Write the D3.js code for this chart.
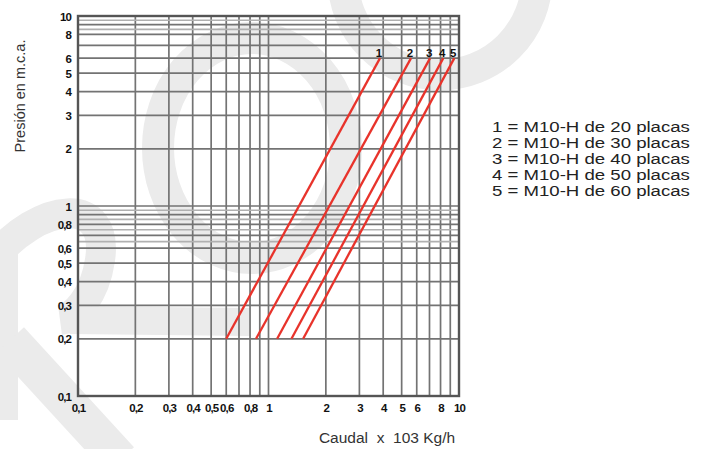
<!DOCTYPE html>
<html>
<head>
<meta charset="utf-8">
<script src="https://cdn.jsdelivr.net/npm/d3@7"></script>
<style>
  body { margin: 0; background: #fff; }
  svg { display: block; font-family: "Liberation Sans", Arial, Helvetica, sans-serif; }
</style>
</head>
<body>
<svg width="706" height="449"></svg>
<script>
// curve ids, flow at 0.2 m.c.a. and at 6 m.c.a. (x 10^3 kg/h)
const curveIds = ["1", "2", "3", "4", "5"];
const flowLow = [0.6, 0.86, 1.11, 1.32, 1.52];
const flowHigh = [3.85, 5.6, 7.05, 8.27, 9.45];
const pressLow = [0.2, 0.2, 0.2, 0.2, 0.2];
const pressHigh = [6, 6, 6, 6, 6];

const legendLabels = [
    "1 = M10-H de 20 placas",
    "2 = M10-H de 30 placas",
    "3 = M10-H de 40 placas",
    "4 = M10-H de 50 placas",
    "5 = M10-H de 60 placas"
];

const xTickValues = [0.1, 0.2, 0.3, 0.4, 0.5, 0.6, 0.8, 1, 2, 3, 4, 5, 6, 8, 10];
const yTickValues = [0.1, 0.2, 0.3, 0.4, 0.5, 0.6, 0.8, 1, 2, 3, 4, 5, 6, 8, 10];
const gridValues = [0.1, 0.2, 0.3, 0.4, 0.5, 0.6, 0.7, 0.8, 0.9, 1, 2, 3, 4, 5, 6, 7, 8, 9, 10];
// the scanned sheet shows some faint in-between rulings
const faintY = [0.65, 0.75, 0.85, 0.95, 8.5, 9.5];

const svg = d3.select("svg");
const x = d3.scaleLog().domain([0.1, 10]).range([78, 459]);
const y = d3.scaleLog().domain([0.1, 10]).range([396, 16]);
const fmt = d => String(d).replace(".", ",");

// watermark
const wm = svg.append("g")
    .attr("fill", "none")
    .attr("stroke", "#ebebeb")
    .attr("stroke-linecap", "butt");
wm.append("ellipse")
    .attr("cx", 252).attr("cy", 148)
    .attr("rx", 94).attr("ry", 110)
    .attr("stroke-width", 32);
wm.append("circle")
    .attr("cx", 440).attr("cy", -22)
    .attr("r", 97)
    .attr("stroke-width", 31);
wm.append("path")
    .attr("d", "M -10 262 C 40 200, 110 195, 100 260 C 95 295, 75 318, 60 320")
    .attr("stroke-width", 30);
wm.append("path")
    .attr("d", "M 70 320 L 250 322")
    .attr("stroke-width", 28);
wm.append("path")
    .attr("d", "M 0 230 L 0 420")
    .attr("stroke-width", 36);
wm.append("path")
    .attr("d", "M 10 340 L 120 460")
    .attr("stroke-width", 38);

// grid
const grid = svg.append("g").attr("stroke", "#737373").attr("stroke-width", 1.7);
grid.selectAll("line.gx")
    .data(gridValues)
    .join("line")
    .attr("class", "gx")
    .attr("x1", d => x(d)).attr("x2", d => x(d))
    .attr("y1", y(0.1)).attr("y2", y(10));
grid.selectAll("line.gy")
    .data(gridValues)
    .join("line")
    .attr("class", "gy")
    .attr("y1", d => y(d)).attr("y2", d => y(d))
    .attr("x1", x(0.1)).attr("x2", x(10));
grid.selectAll("line.fy")
    .data(faintY)
    .join("line")
    .attr("class", "fy")
    .attr("stroke", "#b0b0b0")
    .attr("y1", d => y(d)).attr("y2", d => y(d))
    .attr("x1", x(0.1)).attr("x2", x(10));

// frame
svg.append("rect")
    .attr("x", x(0.1)).attr("y", y(10))
    .attr("width", x(10) - x(0.1))
    .attr("height", y(0.1) - y(10))
    .attr("fill", "none")
    .attr("stroke", "#555")
    .attr("stroke-width", 2.4);

// axes
const xAxis = svg.append("g")
    .attr("transform", `translate(0,${y(0.1) + 8})`)
    .call(d3.axisBottom(x).tickValues(xTickValues).tickFormat(fmt).tickSize(0).tickPadding(0));
const yAxis = svg.append("g")
    .attr("transform", `translate(${x(0.1) - 7},0)`)
    .call(d3.axisLeft(y).tickValues(yTickValues).tickFormat(fmt).tickSize(0).tickPadding(0));
[xAxis, yAxis].forEach(a => {
    a.select(".domain").remove();
    a.selectAll("text")
        .attr("font-family", "'Liberation Sans', Arial, sans-serif")
        .attr("font-size", 11.5)
        .attr("font-weight", "bold")
        .attr("letter-spacing", -0.9)
        .attr("fill", "#111");
});
xAxis.selectAll("text").attr("dy", "0.71em");
yAxis.selectAll("text").attr("dy", "0.36em");

// curves
const curves = curveIds.map((id, i) => ({
    id,
    pts: [[flowLow[i], pressLow[i]], [flowHigh[i], pressHigh[i]]]
}));
const line = d3.line().x(d => x(d[0])).y(d => y(d[1]));
svg.append("g")
    .selectAll("path")
    .data(curves)
    .join("path")
    .attr("d", d => line(d.pts))
    .attr("fill", "none")
    .attr("stroke", "#e8332b")
    .attr("stroke-width", 2.3);

svg.append("g")
    .selectAll("text")
    .data(curves)
    .join("text")
    .attr("x", d => x(d.pts[1][0]) - 1)
    .attr("y", d => y(d.pts[1][1]) - 1.5)
    .attr("text-anchor", "middle")
    .attr("font-size", 11.5)
    .attr("font-weight", "bold")
    .attr("fill", "#111")
    .text(d => d.id);

// axis titles
svg.append("text")
    .attr("transform", "translate(25,96) rotate(-90)")
    .attr("text-anchor", "middle")
    .attr("font-size", 14.5)
    .attr("fill", "#333")
    .text("Presión en m.c.a.");
svg.append("text")
    .attr("x", 387).attr("y", 443)
    .attr("text-anchor", "middle")
    .attr("font-size", 15.5)
    .attr("fill", "#333")
    .attr("xml:space", "preserve")
    .style("white-space", "pre")
    .text("Caudal  x  103 Kg/h");

// legend
svg.append("g")
    .attr("transform", "translate(492,0) scale(1.2,1)")
    .selectAll("text")
    .data(legendLabels)
    .join("text")
    .attr("x", 0)
    .attr("y", (d, i) => 132.5 + i * 16)
    .attr("font-size", 15.5)
    .attr("fill", "#222")
    .text(d => d);
</script>
</body>
</html>
